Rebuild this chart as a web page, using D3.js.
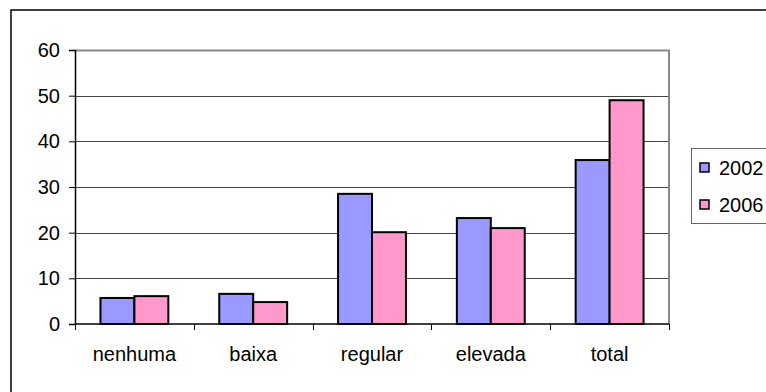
<!DOCTYPE html>
<html>
<head>
<meta charset="utf-8">
<script src="https://cdn.jsdelivr.net/npm/d3@7"></script>
<style>
  body { margin: 0; background: #fff; }
  svg { display: block; font-family: "Liberation Sans", Arial, sans-serif; }
</style>
</head>
<body>
<div id="chart"></div>
<script>
// data
let categories = ["nenhuma", "baixa", "regular", "elevada", "total"];
let seriesNames = ["2002", "2006"];
let values2002 = [5.7, 6.6, 28.5, 23.2, 35.9];
let values2006 = [6.1, 4.8, 20.1, 21.0, 49.0];
let yTicks = [0, 10, 20, 30, 40, 50, 60];
let colors = ["#9999ff", "#ff99cc"];

let svgWidth = 766;
let svgHeight = 392;

// plot area
let plot = { left: 75, right: 669, top: 50, bottom: 324 };

let svg = d3.select("#chart")
    .append("svg")
    .attr("width", svgWidth)
    .attr("height", svgHeight);

// outer chart border
svg.append("rect")
    .attr("x", 11)
    .attr("y", 10)
    .attr("width", 800)
    .attr("height", 400)
    .attr("fill", "none")
    .attr("stroke", "#000")
    .attr("stroke-width", 1.5);

let xScale = d3.scaleBand()
    .domain(categories)
    .range([plot.left, plot.right])
    .padding(0);

let inner = d3.scaleBand()
    .domain(seriesNames)
    .range([0, xScale.bandwidth()])
    .paddingInner(0)
    .paddingOuter(0.75);

let yScale = d3.scaleLinear()
    .domain([0, 60])
    .range([plot.bottom, plot.top]);

// gridlines
svg.append("g")
    .selectAll("line")
    .data(yTicks.filter(d => d > 0 && d < 60))
    .enter()
    .append("line")
    .attr("x1", plot.left)
    .attr("x2", plot.right)
    .attr("y1", d => Math.round(yScale(d)) + 0.5)
    .attr("y2", d => Math.round(yScale(d)) + 0.5)
    .attr("stroke", "#444")
    .attr("stroke-width", 1);

// plot area border (top + right, gray)
svg.append("path")
    .attr("d", `M${plot.left},${yScale(60) + 0.5}H${plot.right}V${plot.bottom}`)
    .attr("fill", "none")
    .attr("stroke", "#888")
    .attr("stroke-width", 2);

// bars
let rows = categories.map((c, i) => ({ cat: c, vals: [values2002[i], values2006[i]] }));

let groups = svg.append("g")
    .selectAll("g")
    .data(rows)
    .enter()
    .append("g")
    .attr("transform", d => `translate(${xScale(d.cat)},0)`);

groups.selectAll("rect")
    .data(d => d.vals.map((v, j) => ({ name: seriesNames[j], value: v, color: colors[j] })))
    .enter()
    .append("rect")
    .attr("x", d => inner(d.name))
    .attr("y", d => yScale(d.value))
    .attr("width", inner.bandwidth())
    .attr("height", d => yScale(0) - yScale(d.value))
    .attr("fill", d => d.color)
    .attr("stroke", "#000")
    .attr("stroke-width", 2);

// y axis
let yAxis = d3.axisLeft(yScale)
    .tickValues(yTicks)
    .tickSize(6)
    .tickPadding(9);

let yG = svg.append("g")
    .attr("transform", `translate(${plot.left},0)`)
    .call(yAxis);
yG.select(".domain").attr("stroke", "#000").attr("stroke-width", 1.5);
yG.selectAll(".tick line").attr("stroke", "#000");
yG.selectAll("text")
    .attr("font-size", "20px")
    .attr("font-family", "Liberation Sans, Arial, sans-serif")
    .attr("fill", "#000");

// x axis: ticks at category boundaries
let xG = svg.append("g")
    .attr("transform", `translate(0,${plot.bottom})`);
xG.append("line")
    .attr("x1", plot.left)
    .attr("x2", plot.right)
    .attr("stroke", "#000")
    .attr("stroke-width", 1.5);
xG.selectAll(".tk")
    .data(categories.concat(["end"]))
    .enter()
    .append("line")
    .attr("class", "tk")
    .attr("x1", (d, i) => Math.round(plot.left + i * xScale.step()) + 0.5)
    .attr("x2", (d, i) => Math.round(plot.left + i * xScale.step()) + 0.5)
    .attr("y1", 0)
    .attr("y2", 6)
    .attr("stroke", "#000");
xG.selectAll("text")
    .data(categories)
    .enter()
    .append("text")
    .attr("x", d => xScale(d) + xScale.bandwidth() / 2)
    .attr("y", 37)
    .attr("text-anchor", "middle")
    .attr("font-size", "20px")
    .text(d => d);

// legend
let legend = svg.append("g")
    .attr("transform", "translate(691,148)");
legend.append("rect")
    .attr("x", 0.5)
    .attr("y", 0.5)
    .attr("width", 120)
    .attr("height", 75)
    .attr("fill", "#fff")
    .attr("stroke", "#666")
    .attr("stroke-width", 1);

let items = legend.selectAll(".item")
    .data(seriesNames)
    .enter()
    .append("g")
    .attr("class", "item")
    .attr("transform", (d, i) => `translate(0,${15 + i * 37})`);
items.append("rect")
    .attr("x", 9)
    .attr("y", 0)
    .attr("width", 9)
    .attr("height", 9)
    .attr("fill", (d, i) => colors[i])
    .attr("stroke", "#000")
    .attr("stroke-width", 1.5);
items.append("text")
    .attr("x", 28)
    .attr("y", 12)
    .attr("font-size", "20px")
    .text(d => d);
</script>
</body>
</html>
